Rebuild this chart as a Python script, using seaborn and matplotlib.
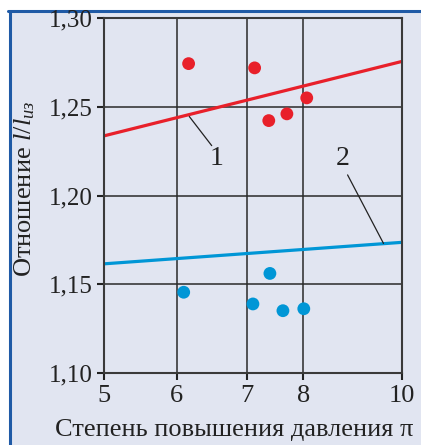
import numpy as np
import pandas as pd
import matplotlib
matplotlib.use("Agg")
import matplotlib.pyplot as plt
import seaborn as sns
from matplotlib.lines import Line2D
from matplotlib.patches import Rectangle

# data
red_x = [6.17, 7.14, 7.39, 7.71, 8.07]
red_y = [1.2743, 1.2719, 1.2422, 1.2460, 1.2550]
blue_x = [6.10, 7.11, 7.41, 7.64, 8.01]
blue_y = [1.1455, 1.1389, 1.1561, 1.1351, 1.1362]
line1_x = [5, 10]
line1_y = [1.2336, 1.2755]
line2_x = [5, 10]
line2_y = [1.1615, 1.1736]
x_ticks = [5, 6, 7, 8, 10]
y_ticks = [1.10, 1.15, 1.20, 1.25, 1.30]
y_labels = ["1,10", "1,15", "1,20", "1,25", "1,30"]

# the x axis of the original is uneven (close to log)
tick_pos = [0, 72.7, 142.7, 199.3, 297.7]

def fwd(v):
    return np.interp(v, x_ticks, tick_pos)

def inv(p):
    return np.interp(p, tick_pos, x_ticks)

red = "#e8202a"
blue = "#0096d6"
bg = "#e1e5f1"
ink = "#222222"

sns.set_theme(style="white")
plt.rcParams["font.family"] = ["Liberation Serif", "DejaVu Serif"]
plt.rcParams["mathtext.fontset"] = "custom"
plt.rcParams["mathtext.rm"] = "Liberation Serif"
plt.rcParams["mathtext.it"] = "Liberation Serif:italic"

fig = plt.figure(figsize=(4.21, 4.45), dpi=100, facecolor="white")
fig.add_artist(Rectangle((11 / 421, 0), 1, 1 - 12 / 445, transform=fig.transFigure,
                         facecolor=bg, edgecolor="none", zorder=-10))
fig.add_artist(Line2D([8 / 421, 1], [1 - 11 / 445] * 2, color="#1f5aa6", lw=2.2, zorder=-5))
fig.add_artist(Line2D([9.5 / 421] * 2, [0, 1 - 11 / 445], color="#1f5aa6", lw=2.2, zorder=-5))

ax = fig.add_axes([104 / 421, 1 - 373 / 445, 297.7 / 421, 355 / 445], zorder=1)
ax.set_facecolor(bg)
ax.set_xscale("function", functions=(fwd, inv))

sns.lineplot(x=line1_x, y=line1_y, color=red, lw=2.3, ax=ax)
sns.lineplot(x=line2_x, y=line2_y, color=blue, lw=2.3, ax=ax)
sns.scatterplot(x=red_x, y=red_y, color=red, s=85, edgecolor="none", ax=ax, zorder=5)
sns.scatterplot(x=blue_x, y=blue_y, color=blue, s=85, edgecolor="none", ax=ax, zorder=5)

ax.set_xlim(5, 10)
ax.set_ylim(1.10, 1.30)
ax.set_xticks(x_ticks)
ax.set_xticklabels([str(t) for t in x_ticks])
ax.set_yticks(y_ticks)
ax.set_yticklabels(y_labels)
ax.grid(True, color="#2a2a2a", lw=1.1)
ax.set_axisbelow(True)
for s in ax.spines.values():
    s.set_color("#3a3a3a")
    s.set_linewidth(1.5)
ax.tick_params(axis="both", which="major", direction="out", length=5, width=1.5,
               color=ink, labelcolor=ink)
ax.tick_params(axis="y", pad=3, labelsize=18, left=True)
ax.tick_params(axis="x", pad=4, labelsize=19, bottom=True)

# leader lines and curve numbers
ax.annotate("", xy=(6.18, 1.2445), xytext=(6.50, 1.2281),
            arrowprops=dict(arrowstyle="-", color=ink, lw=0.9, shrinkA=0, shrinkB=0))
ax.annotate("", xy=(9.63, 1.173), xytext=(8.90, 1.2116),
            arrowprops=dict(arrowstyle="-", color=ink, lw=0.9, shrinkA=0, shrinkB=0))
ax.text(6.57, 1.2208, "1", fontsize=20, ha="center", va="center", color=ink)
ax.text(8.81, 1.2208, "2", fontsize=20, ha="center", va="center", color=ink)

ax.set_xlabel("Степень повышения давления π", fontsize=19, color=ink)
ax.xaxis.set_label_coords(0.437, -0.13)
ax.set_ylabel(r"Отношение $l/l_{из}$", fontsize=19, color=ink)
ax.yaxis.set_label_coords(-0.225, 0.52)

fig.savefig("out.png", dpi=100, facecolor=fig.get_facecolor())
